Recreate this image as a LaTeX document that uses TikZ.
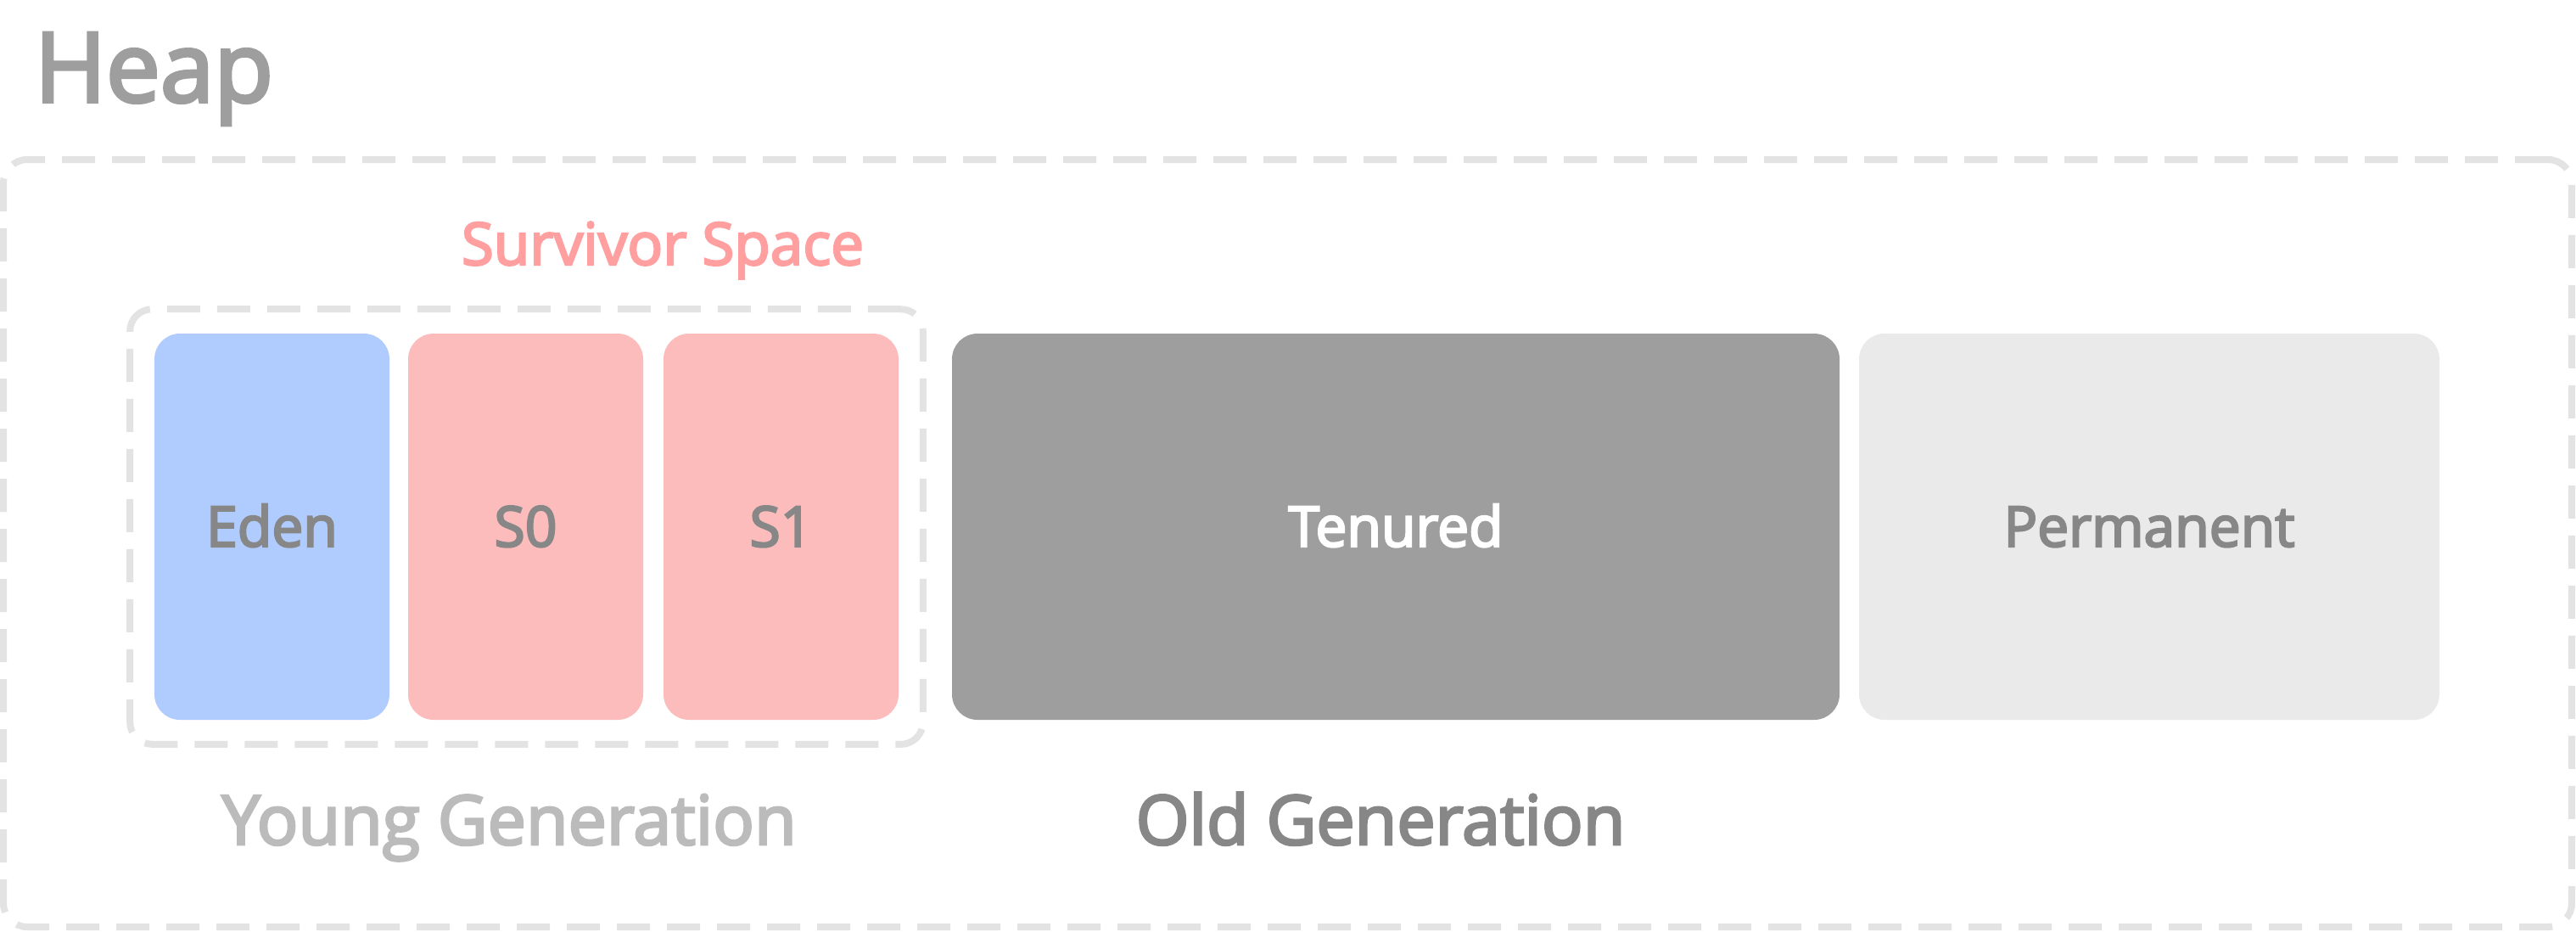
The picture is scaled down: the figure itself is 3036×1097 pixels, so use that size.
\documentclass[tikz,border=0pt]{standalone}
\usepackage{fontspec}
\setmainfont{Open Sans}[UprightFeatures={FakeBold=3.5}]
\usetikzlibrary{fit}
\definecolor{heapgray}{HTML}{9E9E9E}
\definecolor{dashgray}{HTML}{E3E3E3}
\definecolor{edenblue}{HTML}{B0CBFD}
\definecolor{survpink}{HTML}{FCBCBC}
\definecolor{survtext}{HTML}{FF9F9F}
\definecolor{tengray}{HTML}{9E9E9E}
\definecolor{permgray}{HTML}{EAEAEA}
\definecolor{labgray}{HTML}{878787}
\definecolor{younggray}{HTML}{BBBBBB}
\tikzset{
  dashbox/.style={draw=dashgray, line width=2pt, dash pattern=on 9.75pt off 5pt},
  region/.style={rounded corners=7.5pt, minimum height=113.75pt, text height=11.7pt, text depth=0pt, inner sep=0pt, font=\fontsize{16.5}{19}\selectfont},
}
\begin{document}
\begin{tikzpicture}[x=0.25pt,y=-0.25pt]
\useasboundingbox (0,0) rectangle (3036,1097);
\node[anchor=base west, text=heapgray, inner sep=0pt, font=\fontsize{28.5}{34}\selectfont] (heap) at (40,120) {Heap};
\node[dashbox, rounded corners=7pt, minimum width=756.75pt, minimum height=226pt, inner sep=0pt] (heapbox) at (1517.5,640) {};
\node[region, fill=edenblue, text=labgray, minimum width=69.25pt] (eden) at (320.5,620.5) {Eden};
\node[region, fill=survpink, text=labgray, minimum width=69.25pt] (s0) at (619.5,620.5) {S0};
\node[region, fill=survpink, text=labgray, minimum width=69.25pt] (s1) at (920.5,620.5) {S1};
\node[region, fill=tengray, text=white, minimum width=261.5pt] (tenured) at (1645,620.5) {Tenured};
\node[region, fill=permgray, text=labgray, minimum width=171pt] (perm) at (2533,620.5) {Permanent};
\node[dashbox, rounded corners=6.5pt, fit=(eden)(s0)(s1), inner sep=7pt] (young) {};
\node[anchor=base, text=survtext, inner sep=0pt, font=\fontsize{17.3}{20}\selectfont] (survlab) at (781,312) {Survivor Space};
\node[anchor=base, text=younggray, inner sep=0pt, font=\fontsize{20.2}{24}\selectfont] (younglab) at (600,995) {Young Generation};
\node[anchor=base, text=labgray, inner sep=0pt, font=\fontsize{20.2}{24}\selectfont] (oldlab) at (1627,995) {Old Generation};
\end{tikzpicture}
\end{document}
